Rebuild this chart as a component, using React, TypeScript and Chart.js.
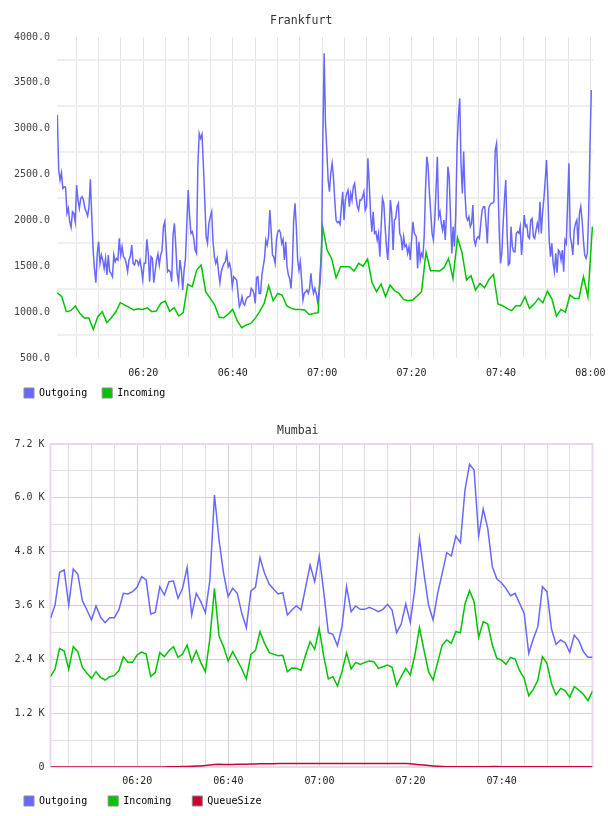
import React, { useEffect, useRef } from "react";
import { Chart, registerables } from "chart.js";

Chart.register(...registerables);

const MONO = "'DejaVu Sans Mono', monospace";

// ---------- Frankfurt (minutes after 06:00) ----------
const frankfurtOutgoing1 = [
  3149, 2550, 2441, 2521, 2350, 2368, 2361, 2077, 2132, 1986,
  1924, 2095, 2077, 1986, 2386, 2222, 2132, 2241, 2259, 2222,
  2132, 2095, 2048, 2150, 2448, 2041, 1677, 1459, 1321, 1641,
  1768, 1532, 1623, 1568, 1477, 1586, 1405, 1623, 1441, 1423,
  1386, 1623, 1550, 1586, 1568, 1804, 1623, 1714, 1605, 1586,
  1532, 1441, 1568, 1605, 1732, 1532, 1514, 1568, 1561, 1514,
  1568, 1477, 1357, 1532, 1532, 1794, 1641, 1332, 1605, 1586,
  1321, 1441, 1568, 1634, 1514, 1623, 1670, 1932, 1986, 1714,
  1441, 1459, 1441, 1332, 1841, 1968, 1714, 1423, 1321, 1568,
  1459, 1241, 1459, 1586, 1968, 2332, 2041, 1859, 1877, 1804,
  1677, 1641, 2604, 2949, 2895, 2939, 2604, 2222, 1823, 1750,
  1968, 2041, 2095, 1768, 1605, 1532, 1586, 1441, 1321, 1441,
  1495, 1532, 1550, 1641, 1495, 1532, 1459, 1277, 1386,
];
const frankfurtOutgoing2 = [
  1350, 1204, 1059, 1095, 1168, 1095, 1077, 1132, 1161, 1168,
  1175, 1259, 1241, 1204, 1095, 1379, 1386, 1204, 1204, 1404,
  1495, 1586, 1786, 1731, 1822, 2113, 1895, 1622, 1604, 1532,
  1786, 1877, 1895, 1866, 1750, 1793, 1568, 1768, 1495, 1404,
  1368, 1259, 1495, 2004, 2186, 1931, 1568, 1459, 1550, 1350,
  1132, 1204, 1223, 1241, 1204, 1259, 1423, 1277, 1204, 1259,
  1204, 1114, 1204, 1350, 1641, 2877, 3822,
  3058, 2768, 2440, 2313, 2513, 2622, 2477, 2222, 2004, 1975,
  1986, 1957, 2150, 2313, 2004, 2222, 2295, 2331, 2150, 2295,
  2222, 2368, 2404, 2259, 2150, 2113, 2222, 2222, 2259, 2313,
  2113, 2150, 2677, 2404, 2077, 1877, 2095, 1859, 1877, 1786,
  1859, 1604, 1931, 2240, 2186, 1931, 1713, 1568, 1877, 2222,
  2077, 1677, 2004, 2022, 2150, 2186, 1859, 1822, 1677, 1822,
  1713, 1731, 1641, 1713, 1568, 1786, 1986, 1859,
];
const frankfurtOutgoing3 = [
  1823, 1477, 1768, 1568, 1641, 1604, 1823, 2331, 2695, 2586,
  2295, 2077, 1859, 1786, 2004, 2331, 2695, 2041, 2095, 1968,
  1895, 2004, 1786, 2077, 2586, 2477, 2041, 1641, 1932, 1714,
  2077, 2804, 3131, 3331, 2622, 2295, 2750, 2295, 2041,
  2004, 2041, 1932, 1968, 2168, 1786, 1732, 1804, 1823, 1804,
  1968, 2113, 2150, 2150, 1968, 1750, 2132, 2168, 2186, 2186,
  2204, 2768, 2840, 2441, 1895, 1532, 1641, 1968, 2222, 2441,
  1859, 1514, 1532, 1932, 1714, 1659, 1659, 1859, 1877, 1859,
  1932, 1623, 1823, 2059, 1932, 1950, 1823, 1804, 2004, 2022,
  1823, 1804, 1895, 1968, 1895, 2204, 1859, 2095, 2241, 2441,
  2659, 2277, 1786, 1604, 1750, 1532, 1441, 1641, 1430, 1677,
  1659, 1568, 1677, 1441, 1786, 1750, 2186, 2622, 1823, 1750,
  1623, 1895, 1968, 2004, 1732, 2077, 2150, 2004, 1786, 1623,
  1586, 1641, 2077, 2804, 3422,
];
// sampling spans (minutes after 06:00) of the three outgoing pieces
const frankfurtOutgoingSpans = [
  [0.77, 40.22],
  [40.89, 80.61],
  [81.06, 120.2],
];
const frankfurtIncoming = [
  1212, 1168, 1005, 1016, 1067, 987, 936, 936, 812, 950,
  1005, 885, 939, 1001, 1103, 1077, 1052, 1023, 1037, 1030,
  1048, 1005, 1012, 1096, 1121, 1008, 1048, 958, 994, 1303,
  1277, 1459, 1514, 1223, 1150, 1077, 943, 939, 979, 1030,
  907, 830, 859, 877, 932, 1005, 1095, 1288, 1124, 1204,
  1186, 1070, 1041, 1030, 1030, 1023, 975, 986, 994, 1931,
  1677, 1586, 1375, 1495, 1495, 1495, 1448, 1532, 1502, 1579,
  1321, 1223, 1306, 1168, 1295, 1233, 1204, 1139, 1124, 1132,
  1175, 1223, 1652, 1452, 1452, 1448, 1485, 1586, 1368, 1812,
  1648, 1350, 1397, 1241, 1314, 1266, 1357, 1412, 1088, 1070,
  1041, 1016, 1070, 1070, 1168, 1041, 1085, 1150, 1103, 1230,
  1143, 957, 1030, 1001, 1186, 1150, 1150, 1386, 1168, 1932,
];
const frankfurtIncomingSpan = [0.77, 120.45];
const frankfurtRange = [0.7, 120.65];
const frankfurtYTicks = [500, 4000, 500]; // min, max, step

// ---------- Mumbai (one sample per minute) ----------
const mumbaiStart = 0.95;
const mumbaiRange = [0.95, 119.95];
const mumbaiOutgoing = [
  3314, 3611, 4340, 4391, 3611, 4413, 4295, 3707, 3500, 3277,
  3589, 3336, 3217, 3328, 3328, 3500, 3871, 3856, 3908, 4005,
  4243, 4168, 3410, 3447, 4020, 3834, 4131, 4146, 3760, 3982,
  4451, 3388, 3871, 3685, 3440, 4168, 6063, 5060, 4317, 3797,
  3982, 3871, 3425, 3105, 3923, 4005, 4666, 4317, 4079, 3960,
  3856, 3886, 3388, 3500, 3596, 3500, 4000, 4503, 4131, 4703,
  3900, 2994, 2957, 2704, 3128, 4020, 3462, 3589, 3514, 3514,
  3559, 3514, 3462, 3514, 3626, 3500, 2994, 3187, 3633, 3225,
  3982, 5097, 4317, 3611, 3277, 3871, 4317, 4777, 4703, 5149,
  5000, 6174, 6746, 6620, 5149, 5751, 5320, 4465, 4191, 4109,
  3982, 3819, 3871, 3648, 3425, 2534, 2853, 3128, 4020, 3908,
  3076, 2734, 2831, 2771, 2556, 2942, 2816, 2571, 2445, 2445,
];
const mumbaiIncoming = [
  2014, 2184, 2645, 2586, 2184, 2682, 2571, 2221, 2088, 1976,
  2125, 1998, 1939, 2014, 2036, 2147, 2459, 2333, 2333, 2496,
  2563, 2519, 2014, 2103, 2548, 2459, 2593, 2682, 2444, 2519,
  2719, 2348, 2593, 2326, 2125, 2868, 3982, 2920, 2682, 2363,
  2571, 2385, 2184, 1962, 2511, 2593, 3017, 2756, 2556, 2511,
  2482, 2489, 2125, 2207, 2199, 2155, 2496, 2793, 2623, 3080,
  2459, 1962, 2014, 1805, 2125, 2548, 2184, 2333, 2288, 2333,
  2363, 2348, 2199, 2236, 2274, 2221, 1813, 2014, 2199, 2051,
  2496, 3106, 2608, 2125, 1939, 2333, 2719, 2831, 2756, 3017,
  2994, 3633, 3931, 3685, 2890, 3240, 3187, 2719, 2422, 2385,
  2288, 2445, 2407, 2147, 1976, 1590, 1731, 1939, 2459, 2311,
  1850, 1605, 1753, 1701, 1553, 1790, 1716, 1620, 1478, 1694,
];
const mumbaiQueueSize = [
  0, 0, 0, 0, 0, 0, 0, 0, 0, 0,
  0, 0, 0, 0, 0, 0, 0, 0, 0, 0,
  0, 0, 0, 0, 0, 2, 4, 6, 8, 10,
  12, 15, 20, 25, 35, 45, 55, 60, 55, 55,
  58, 60, 62, 64, 66, 68, 70, 72, 74, 75,
  76, 77, 78, 78, 79, 80, 80, 80, 80, 80,
  80, 80, 80, 80, 80, 80, 80, 80, 80, 80,
  80, 80, 80, 80, 80, 80, 80, 80, 78, 72,
  62, 52, 42, 33, 25, 18, 12, 8, 6, 5,
  5, 5, 5, 5, 5, 5, 8, 10, 10, 8,
  6, 5, 5, 5, 5, 5, 5, 5, 5, 5,
  5, 5, 5, 5, 5, 5, 5, 5, 5, 5,
];
const mumbaiYTicks = [0, 7200, 600];

const COLORS = { outgoing: "#6868ff", incoming: "#00c400", queue: "#cc0033" };

const spread = (values: number[], from: number, to: number) =>
  values.map((v, i) => ({ x: from + (i * (to - from)) / (values.length - 1), y: v }));

const hhmm = (v: number) => {
  const m = Math.round(v);
  if (Math.abs(v - m) > 0.01 || m % 20 !== 0) return "";
  const h = 6 + Math.floor(m / 60);
  const mm = m % 60;
  return String(h).padStart(2, "0") + ":" + String(mm).padStart(2, "0");
};

const legendLabels = (chart: any) =>
  chart.data.datasets.map((ds: any, i: number) => ({
    text: ds.label,
    fillStyle: ds.borderColor,
    strokeStyle: "#8a8a8a",
    lineWidth: 1,
    hidden: false,
    datasetIndex: i,
    fontColor: "#000",
  }));

// moves the legend block vertically after layout (keeps the chart area unchanged)
const legendShift = (dy: number) => ({
  id: "legendShift",
  afterLayout(chart: any) {
    const l = chart.legend;
    if (l) {
      l.top += dy;
      l.bottom += dy;
    }
  },
});

function frankfurtConfig(): any {
  const outgoing = [
    ...spread(frankfurtOutgoing1, frankfurtOutgoingSpans[0][0], frankfurtOutgoingSpans[0][1]),
    ...spread(frankfurtOutgoing2, frankfurtOutgoingSpans[1][0], frankfurtOutgoingSpans[1][1]),
    ...spread(frankfurtOutgoing3, frankfurtOutgoingSpans[2][0], frankfurtOutgoingSpans[2][1]),
  ];
  const incoming = spread(frankfurtIncoming, frankfurtIncomingSpan[0], frankfurtIncomingSpan[1]);
  return {
    type: "line",
    data: {
      datasets: [
        { label: "Outgoing", data: outgoing, borderColor: COLORS.outgoing, backgroundColor: COLORS.outgoing, borderWidth: 1.5, pointRadius: 0, tension: 0 },
        { label: "Incoming", data: incoming, borderColor: COLORS.incoming, backgroundColor: COLORS.incoming, borderWidth: 1.5, pointRadius: 0, tension: 0 },
      ],
    },
    plugins: [legendShift(-6)],
    options: {
      animation: false,
      responsive: false,
      devicePixelRatio: 1,
      layout: { padding: { left: 9, right: 26.7, top: 0, bottom: 0 } },
      plugins: {
        title: { display: true, text: "Frankfurt", color: "#333", font: { family: MONO, size: 11.5, weight: "normal" }, padding: { top: 14.1, bottom: 9.1 } },
        legend: {
          position: "bottom",
          align: "start",
          labels: { font: { family: MONO, size: 10 }, color: "#000", boxWidth: 10, boxHeight: 10, padding: 15, generateLabels: legendLabels },
        },
        tooltip: { enabled: false },
      },
      scales: {
        x: {
          type: "linear",
          min: frankfurtRange[0],
          max: frankfurtRange[1],
          afterFit: (s: any) => { s.height = 21; },
          ticks: { stepSize: 5, includeBounds: false, autoSkip: false, maxRotation: 0, padding: 9, color: "#222", font: { family: MONO, size: 10 }, callback: (v: any) => hhmm(Number(v)) },
          grid: { color: "#e4e4e4", lineWidth: 1, drawTicks: false },
          border: { display: false },
        },
        y: {
          min: frankfurtYTicks[0],
          max: frankfurtYTicks[1],
          afterFit: (s: any) => { s.width = 48; },
          ticks: { stepSize: frankfurtYTicks[2], padding: 7, color: "#444", font: { family: MONO, size: 10 }, callback: (v: any) => Number(v).toFixed(1) },
          grid: { offset: true, color: "#efefef", lineWidth: 2, drawTicks: false },
          border: { display: false },
        },
      },
    },
  };
}

function mumbaiConfig(): any {
  const pts = (arr: number[]) => arr.map((v, i) => ({ x: mumbaiStart + i, y: v }));
  const majorPink = "#e2c8e2";
  const minorGray = "#e0e0e0";
  const frame = {
    id: "frame",
    beforeDatasetsDraw(chart: any) {
      const { ctx, chartArea: a } = chart;
      ctx.save();
      ctx.strokeStyle = "#ebd7eb";
      ctx.lineWidth = 2;
      ctx.strokeRect(a.left, a.top, a.right - a.left, a.bottom - a.top);
      ctx.restore();
    },
  };
  return {
    type: "line",
    data: {
      datasets: [
        { label: "Outgoing", data: pts(mumbaiOutgoing), borderColor: COLORS.outgoing, backgroundColor: COLORS.outgoing, borderWidth: 1.5, pointRadius: 0, tension: 0 },
        { label: "Incoming", data: pts(mumbaiIncoming), borderColor: COLORS.incoming, backgroundColor: COLORS.incoming, borderWidth: 1.5, pointRadius: 0, tension: 0 },
        { label: "QueueSize", data: pts(mumbaiQueueSize), borderColor: COLORS.queue, backgroundColor: COLORS.queue, borderWidth: 1.5, pointRadius: 0, tension: 0 },
      ],
    },
    plugins: [frame, legendShift(-12)],
    options: {
      animation: false,
      responsive: false,
      devicePixelRatio: 1,
      layout: { padding: { left: 3, right: 15.5, top: 0, bottom: 0 } },
      plugins: {
        title: { display: true, text: "Mumbai", color: "#333", font: { family: MONO, size: 11.5, weight: "normal" }, padding: { top: 16.1, bottom: 6.1 } },
        legend: {
          position: "bottom",
          align: "start",
          labels: { font: { family: MONO, size: 10 }, color: "#000", boxWidth: 10, boxHeight: 10, padding: 21, generateLabels: legendLabels },
        },
        tooltip: { enabled: false },
      },
      scales: {
        x: {
          type: "linear",
          min: mumbaiRange[0],
          max: mumbaiRange[1],
          afterFit: (s: any) => { s.height = 20; },
          ticks: { stepSize: 5, includeBounds: false, autoSkip: false, maxRotation: 0, padding: 8, color: "#222", font: { family: MONO, size: 10 }, callback: (v: any) => hhmm(Number(v)) },
          grid: {
            color: (c: any) => (c.tick && Math.round(c.tick.value) % 20 === 0 ? majorPink : minorGray),
            lineWidth: 1,
            drawTicks: false,
          },
          border: { display: false },
        },
        y: {
          min: mumbaiYTicks[0],
          max: mumbaiYTicks[1],
          afterFit: (s: any) => { s.width = 47.5; },
          ticks: {
            stepSize: mumbaiYTicks[2],
            padding: 6,
            color: "#333",
            font: { family: MONO, size: 10 },
            callback: (v: any) => {
              const n = Number(v);
              if (n === 0) return "0";
              return n % 1200 === 0 ? (n / 1000).toFixed(1) + " K" : "";
            },
          },
          grid: {
            color: (c: any) => (c.tick && c.tick.value % 1200 === 0 ? majorPink : minorGray),
            lineWidth: 1,
            drawTicks: false,
          },
          border: { display: false },
        },
      },
    },
  };
}

function ChartCanvas({ config, top, width, height }: { config: () => any; top: number; width: number; height: number }) {
  const ref = useRef<HTMLCanvasElement | null>(null);
  useEffect(() => {
    if (!ref.current) return;
    const chart = new Chart(ref.current, config());
    return () => chart.destroy();
  }, []);
  return (
    <canvas
      ref={ref}
      width={width}
      height={height}
      style={{ position: "absolute", left: 0, top, width, height, display: "block" }}
    />
  );
}

export default function App() {
  return (
    <div style={{ position: "absolute", left: 0, top: 0, width: 608, height: 816, overflow: "hidden", background: "#fff" }}>
      <ChartCanvas config={frankfurtConfig} top={0} width={620} height={414} />
      <ChartCanvas config={mumbaiConfig} top={408} width={608} height={420} />
    </div>
  );
}
